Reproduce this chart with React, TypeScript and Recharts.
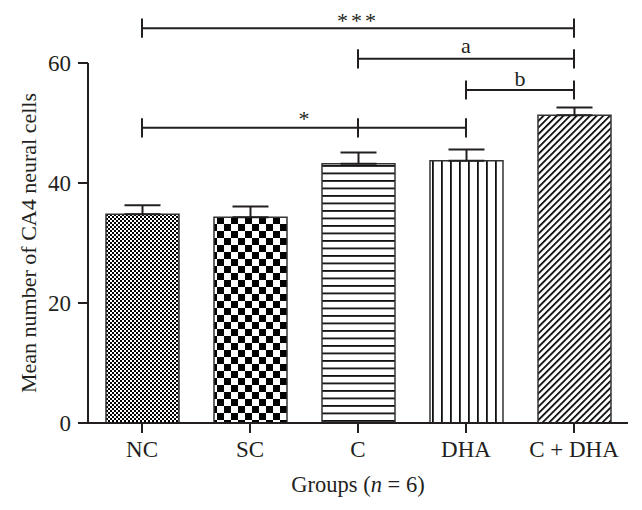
import { BarChart, Bar, Cell, XAxis, YAxis, ErrorBar, ReferenceLine } from "recharts";

const groups = ["NC", "SC", "C", "DHA", "C + DHA"];
const meanCells = [34.8, 34.3, 43.2, 43.7, 51.3];
const semCells = [1.5, 1.8, 1.9, 1.9, 1.3];
const yTicks = [0, 20, 40, 60];

// significance brackets drawn above the bars
const comparisons = [
  { from: "NC", to: "C + DHA", level: 65.8, label: "***" },
  { from: "C", to: "C + DHA", level: 60.7, label: "a" },
  { from: "DHA", to: "C + DHA", level: 55.5, label: "b" },
  { from: "NC", to: "DHA", mid: "C", level: 49.2, label: "*" },
];

const data = groups.map((name, i) => ({
  name,
  mean: meanCells[i],
  err: [0, semCells[i]],
}));

const INK = "#231f20";
const FONT = "'Liberation Serif', 'Times New Roman', serif";
const CAP = 1.6; // half height of bracket ends, in y units
const labelOffset: Record<string, number> = { "***": 0, a: 6, b: 4, "*": 2 };

const GroupsLabel = (props: any) => {
  const vb = props.viewBox;
  return (
    <text
      x={vb.x + vb.width / 2}
      y={vb.y + vb.height - 18}
      textAnchor="middle"
      fill={INK}
      fontSize={22.5}
      fontFamily={FONT}
    >
      Groups (<tspan fontStyle="italic">n</tspan> = 6)
    </text>
  );
};

export default function App() {
  return (
    <div style={{ position: "absolute", left: 0, top: 0, background: "#fff" }}>
      <BarChart
        width={642}
        height={510}
        data={data}
        margin={{ top: 63, right: 14, left: 0, bottom: 0 }}
        barSize={73}
      >
        <defs>
          <pattern id="pat-nc" patternUnits="userSpaceOnUse" width={4} height={4}>
            <rect width={4} height={4} fill="#fff" />
            <rect width={2} height={2} fill="#000" />
            <rect x={2} y={2} width={2} height={2} fill="#000" />
          </pattern>
          <pattern id="pat-sc" patternUnits="userSpaceOnUse" width={14} height={14}>
            <rect width={14} height={14} fill="#fff" />
            <rect width={7} height={7} fill="#000" />
            <rect x={7} y={7} width={7} height={7} fill="#000" />
          </pattern>
          <pattern id="pat-c" patternUnits="userSpaceOnUse" width={8} height={7.5}>
            <rect width={8} height={7.5} fill="#fff" />
            <rect width={8} height={1.8} fill="#111" />
          </pattern>
          <pattern id="pat-dha" patternUnits="userSpaceOnUse" width={9} height={9}>
            <rect width={9} height={9} fill="#fff" />
            <rect width={1.8} height={9} fill="#111" />
          </pattern>
          <pattern
            id="pat-cdha"
            patternUnits="userSpaceOnUse"
            width={4.7}
            height={4.7}
            patternTransform="rotate(45)"
          >
            <rect width={4.7} height={4.7} fill="#fff" />
            <rect width={1.7} height={4.7} fill="#000" />
          </pattern>
        </defs>
        <XAxis
          dataKey="name"
          height={87}
          axisLine={{ stroke: INK, strokeWidth: 2 }}
          tickLine={{ stroke: INK, strokeWidth: 2 }}
          tickSize={10}
          tickMargin={8}
          tick={{ fill: INK, fontSize: 23, fontFamily: FONT }}
          label={<GroupsLabel />}
        />
        <YAxis
          width={88}
          domain={[0, 60]}
          ticks={yTicks}
          axisLine={{ stroke: INK, strokeWidth: 2 }}
          tickLine={{ stroke: INK, strokeWidth: 2 }}
          tickSize={10}
          tickMargin={7}
          tick={{ fill: INK, fontSize: 23, fontFamily: FONT }}
          label={{
            value: "Mean number of CA4 neural cells",
            angle: -90,
            position: "insideLeft",
            offset: 28,
            style: { textAnchor: "middle", fill: INK, fontSize: 22, fontFamily: FONT },
          }}
        />
        <Bar dataKey="mean" stroke="#333" strokeWidth={1.5} isAnimationActive={false}>
          {data.map((d, i) => (
            <Cell
              key={d.name}
              fill={`url(#${["pat-nc", "pat-sc", "pat-c", "pat-dha", "pat-cdha"][i]})`}
            />
          ))}
          <ErrorBar dataKey="err" direction="y" width={18} stroke={INK} strokeWidth={2} />
        </Bar>
        {comparisons.map((c) => (
          <ReferenceLine
            key={c.label + "-line"}
            segment={[
              { x: c.from, y: c.level },
              { x: c.to, y: c.level },
            ]}
            ifOverflow="visible"
            stroke={INK}
            strokeWidth={2}
            label={{
              value: c.label,
              position: "top",
              offset: labelOffset[c.label],
              fill: INK,
              fontSize: 22,
              fontFamily: FONT,
              letterSpacing: c.label === "***" ? 3 : 0,
            }}
          />
        ))}
        {comparisons.flatMap((c) =>
          [c.from, c.mid, c.to]
            .filter((x) => x)
            .map((x) => (
              <ReferenceLine
                key={c.label + "-" + x}
                segment={[
                  { x, y: c.level - CAP },
                  { x, y: c.level + CAP },
                ]}
                ifOverflow="visible"
                stroke={INK}
                strokeWidth={2}
              />
            ))
        )}
      </BarChart>
    </div>
  );
}
